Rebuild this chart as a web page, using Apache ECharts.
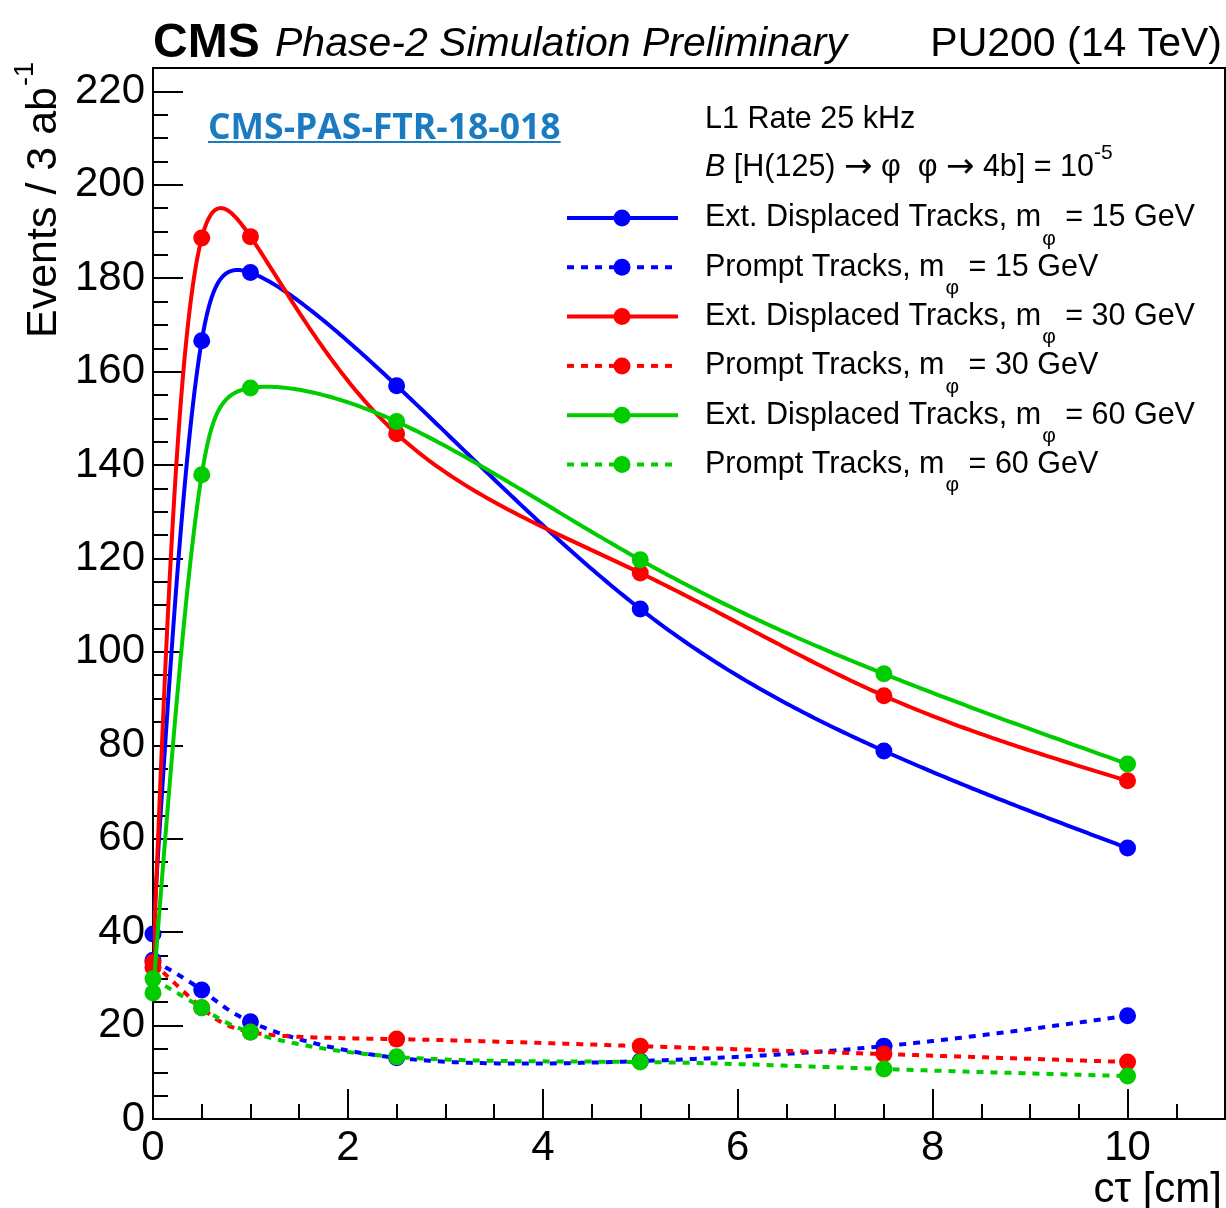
<!DOCTYPE html>
<html><head><meta charset="utf-8">
<script src="https://cdn.jsdelivr.net/npm/echarts@6/dist/echarts.min.js"></script>
<style>html,body{margin:0;padding:0;background:#fff}#c{width:1226px;height:1208px}</style>
</head><body><div id="c"></div>
<script>
// ---- data ----
const ctau = [0, 0.5, 1, 2.5, 5, 7.5, 10];
const extDisp15 = [39.6, 166.6, 181.2, 157.0, 109.2, 78.8, 58.0];
const prompt15  = [34.0, 27.6, 20.8, 13.1, 12.4, 15.6, 22.1];
const extDisp30 = [32.5, 188.6, 188.9, 146.7, 116.9, 90.6, 72.4];
const prompt30  = [33.5, 23.8, 18.6, 17.1, 15.6, 13.9, 12.2];
const extDisp60 = [27.0, 137.9, 156.5, 149.3, 119.7, 95.3, 76.0];
const prompt60  = [30.0, 23.8, 18.6, 13.3, 12.2, 10.7, 9.2];
const seriesLabels = ['Ext. Displaced Tracks, m', 'Prompt Tracks, m', 'Ext. Displaced Tracks, m', 'Prompt Tracks, m', 'Ext. Displaced Tracks, m', 'Prompt Tracks, m'];
const massLabels = ['15', '15', '30', '30', '60', '60'];
const seriesValues = [extDisp15, prompt15, extDisp30, prompt30, extDisp60, prompt60];
const seriesColors = ['#0000ff', '#0000ff', '#ff0000', '#ff0000', '#00cc00', '#00cc00'];
const seriesDotted = [false, true, false, true, false, true];

const FONT = '"Liberation Sans", Arial, Helvetica, sans-serif';
const mctx = document.createElement('canvas').getContext('2d');
function fontStr(size, o) { o = o || {}; return (o.style || 'normal') + ' ' + (o.weight || 'normal') + ' ' + size + 'px ' + (o.family || FONT); }
function tw(text, size, o) { mctx.font = fontStr(size, o); return mctx.measureText(text).width; }
function txt(text, x, y, size, opts) {
  opts = opts || {};
  return { type: 'text', silent: true, z: 100, style: {
    text: text, x: x, y: y, font: fontStr(size, opts), fill: opts.color || '#000',
    textAlign: opts.align || 'left', align: opts.align || 'left',
    textVerticalAlign: 'middle', verticalAlign: 'middle' } };
}

const graphics = [];
// title
graphics.push(txt('CMS', 153, 44, 48, { weight: 'bold' }));
graphics.push(txt('Phase-2 Simulation Preliminary', 275, 45, 41, { style: 'italic' }));
graphics.push(txt('PU200 (14 TeV)', 1222, 45, 41, { align: 'right' }));
// link-like label
const linkOpts = { weight: 'bold', family: '"Open Sans", ' + FONT, color: '#1b7bc0' };
const linkW = tw('CMS-PAS-FTR-18-018', 35.5, linkOpts);
graphics.push(txt('CMS-PAS-FTR-18-018', 208, 129, 35.5, linkOpts));
graphics.push({ type: 'line', silent: true, z: 100, shape: { x1: 208, y1: 142, x2: 208 + linkW, y2: 142 }, style: { stroke: '#1b7bc0', lineWidth: 2 } });
// legend header
const LF = 30.5;
graphics.push(txt('L1 Rate 25 kHz', 705, 120, LF));
{
  const y = 168;
  const arrowOpts = { family: '"DejaVu Sans", ' + FONT };
  const parts = [
    ['B', LF, { style: 'italic' }, 0],
    [' [H(125) ', LF, {}, 0],
    ['\u2192', 34, arrowOpts, 0],
    [' \u03c6  \u03c6 ', LF, {}, 0],
    ['\u2192', 34, arrowOpts, 0],
    [' 4b] = 10', LF, {}, 0],
    ['-5', 21, {}, -15]
  ];
  let x = 705;
  parts.forEach(p => {
    graphics.push(txt(p[0], x, y + p[3], p[1], p[2]));
    x += tw(p[0], p[1], p[2]);
  });
}
// legend entries
for (let i = 0; i < 6; i++) {
  const y = 218 + i * 49.3;
  graphics.push({ type: 'line', silent: true, z: 100, shape: { x1: 567, y1: y, x2: 678, y2: y },
    style: { stroke: seriesColors[i], lineWidth: 4, lineDash: seriesDotted[i] ? [7, 7] : null } });
  graphics.push({ type: 'circle', silent: true, z: 101, shape: { cx: 622, cy: y, r: 8.5 }, style: { fill: seriesColors[i] } });
  let x = 705;
  graphics.push(txt(seriesLabels[i], x, y, LF));
  x += tw(seriesLabels[i], LF);
  graphics.push(txt('\u03c6', x + 1, y + 21, 21));
  x += tw('\u03c6', 21) + 2;
  graphics.push(txt(' = ' + massLabels[i] + ' GeV', x, y, LF));
}
// y-axis title (rotated)
{
  const main = 'Events / 3 ab';
  const w = tw(main, 43);
  graphics.push({ type: 'group', x: 44, y: 338, rotation: Math.PI / 2, silent: true, children: [
    txt(main, 0, 0, 43),
    txt('-1', w + 1, -18, 27)
  ] });
}
// x-axis title
graphics.push(txt('c\u03c4 [cm]', 1222, 1190, 42, { align: 'right' }));

// parametric natural cubic spline in pixel space (knot spacing = chord^0.25)
const KNOT_ALPHA = 0.25;
function spline1d(t, v) {
  const n = t.length;
  const M = new Array(n).fill(0);
  if (n > 2) {
    const a = [], b = [], c = [], d = [];
    for (let i = 1; i < n - 1; i++) {
      const h0 = t[i] - t[i - 1], h1 = t[i + 1] - t[i];
      a.push(h0); b.push(2 * (h0 + h1)); c.push(h1);
      d.push(6 * ((v[i + 1] - v[i]) / h1 - (v[i] - v[i - 1]) / h0));
    }
    const m = b.length;
    for (let i = 1; i < m; i++) {
      const w = a[i] / b[i - 1];
      b[i] -= w * c[i - 1];
      d[i] -= w * d[i - 1];
    }
    const s = new Array(m);
    s[m - 1] = d[m - 1] / b[m - 1];
    for (let i = m - 2; i >= 0; i--) s[i] = (d[i] - c[i] * s[i + 1]) / b[i];
    for (let i = 0; i < m; i++) M[i + 1] = s[i];
  }
  return function (i, u) {
    const h = t[i + 1] - t[i];
    const A = (t[i + 1] - (t[i] + u)) / h, B = u / h;
    return A * v[i] + B * v[i + 1] + ((A * A * A - A) * M[i] + (B * B * B - B) * M[i + 1]) * h * h / 6;
  };
}
function smoothPath(pts) {
  const t = [0];
  for (let i = 1; i < pts.length; i++) t.push(t[i - 1] + Math.pow(Math.hypot(pts[i][0] - pts[i - 1][0], pts[i][1] - pts[i - 1][1]), KNOT_ALPHA));
  const fx = spline1d(t, pts.map(p => p[0])), fy = spline1d(t, pts.map(p => p[1]));
  const out = [pts[0]];
  for (let i = 0; i < pts.length - 1; i++) {
    const h = t[i + 1] - t[i];
    const steps = 60;
    for (let k = 1; k <= steps; k++) out.push([fx(i, h * k / steps), fy(i, h * k / steps)]);
  }
  return out;
}

const series = [];
seriesValues.forEach((vals, i) => {
  const data = ctau.map((x, j) => [x, vals[j]]);
  series.push({
    type: 'custom',
    name: seriesLabels[i] + massLabels[i] + ' line',
    xAxisIndex: 0, yAxisIndex: 0,
    data: data,
    encode: { x: 0, y: 1 },
    clip: true,
    z: 10 + 2 * i,
    silent: true,
    animation: false,
    renderItem: function (params, api) {
      if (params.dataIndex !== 0) return null;
      const pts = data.map(d => api.coord(d));
      return { type: 'polyline', shape: { points: smoothPath(pts) },
        style: { stroke: seriesColors[i], lineWidth: 4, fill: null, lineDash: seriesDotted[i] ? [7, 7] : null, lineCap: 'butt', lineJoin: 'round' } };
    }
  });
  series.push({
    type: 'scatter',
    name: seriesLabels[i] + massLabels[i],
    xAxisIndex: 0, yAxisIndex: 0,
    data: data,
    symbol: 'circle', symbolSize: 17,
    itemStyle: { color: seriesColors[i], opacity: 1 },
    z: 11 + 2 * i,
    animation: false
  });
});

const axisCommon = { axisLine: { show: true, lineStyle: { color: '#000', width: 2 } }, splitLine: { show: false } };
const option = {
  animation: false,
  backgroundColor: '#fff',
  grid: { left: 153, right: 1, top: 68, bottom: 89, show: true, borderColor: '#000', borderWidth: 2, backgroundColor: 'transparent', containLabel: false },
  xAxis: [
    Object.assign({ type: 'value', min: 0, max: 11, interval: 2, position: 'bottom',
      axisTick: { show: true, inside: true, length: 30, lineStyle: { color: '#000', width: 2 } },
      axisLabel: { show: true, fontSize: 42, fontFamily: FONT, color: '#000', margin: 8, showMaxLabel: false } }, axisCommon),
    { type: 'value', min: 0, max: 11, interval: 0.5, position: 'bottom', gridIndex: 0,
      axisLine: { show: false }, splitLine: { show: false },
      axisTick: { show: true, inside: true, length: 15, lineStyle: { color: '#000', width: 2 } },
      axisLabel: { show: false } }
  ],
  yAxis: [
    Object.assign({ type: 'value', min: 0, max: 225, interval: 20, position: 'left',
      axisTick: { show: true, inside: true, length: 30, lineStyle: { color: '#000', width: 2 } },
      axisLabel: { show: true, fontSize: 42, fontFamily: FONT, color: '#000', margin: 8, showMaxLabel: false } }, axisCommon),
    { type: 'value', min: 0, max: 225, interval: 5, position: 'left', gridIndex: 0,
      axisLine: { show: false }, splitLine: { show: false },
      axisTick: { show: true, inside: true, length: 15, lineStyle: { color: '#000', width: 2 } },
      axisLabel: { show: false } }
  ],
  series: series,
  graphic: graphics
};
const chart = echarts.init(document.getElementById('c'), null, { renderer: 'canvas' });
chart.setOption(option);
</script></body></html>
